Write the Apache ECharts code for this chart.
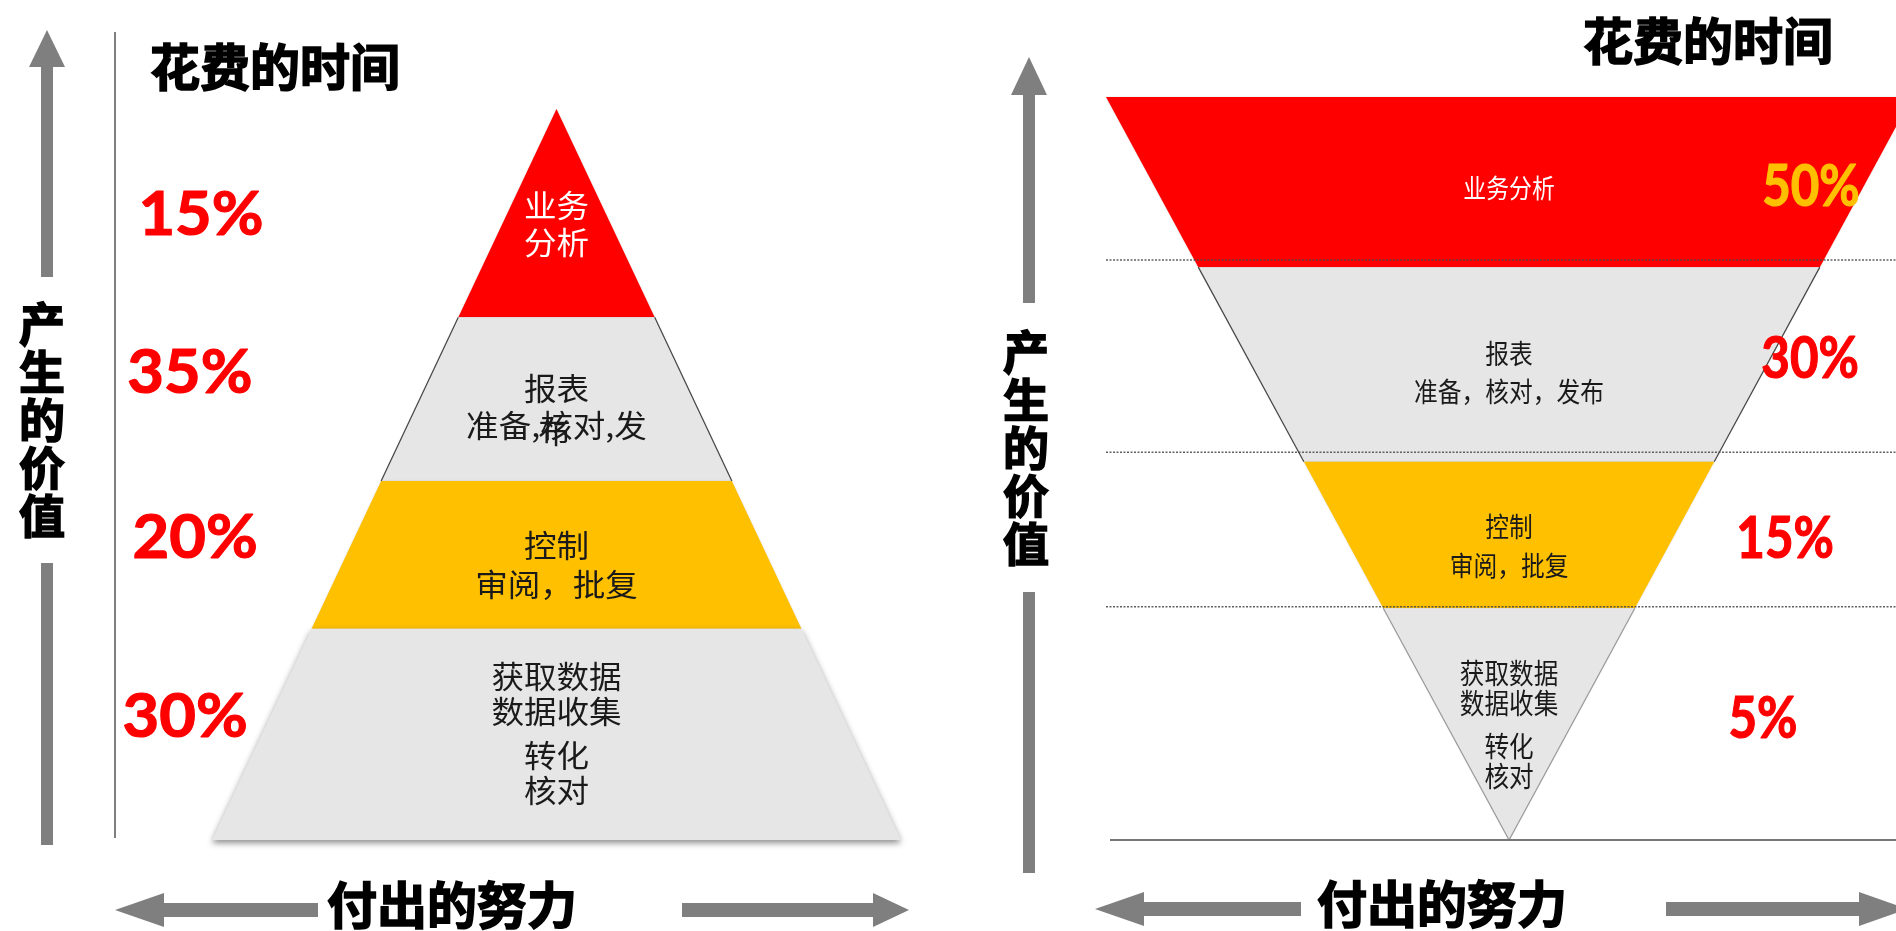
<!DOCTYPE html>
<html>
<head>
<meta charset="utf-8">
<script src="https://cdn.jsdelivr.net/npm/echarts@6/dist/echarts.min.js"></script>
<style>
html,body{margin:0;padding:0;background:#fff;}
#c{width:1896px;height:931px;}
</style>
</head>
<body>
<div id="c"></div>
<script>
// ---------- DATA ----------
const leftCategories = ['业务\n分析', '报表\n准备,核对,发', '控制\n审阅，批复', '获取数据\n数据收集\n转化\n核对'];
const leftPercents = [15, 35, 20, 30];
const leftLayerBottom = [71.5, 49.1, 28.9, 0];
const leftLayerTop = [100, 71.5, 49.1, 28.9];
const leftLabelLevel = [84.3, 59.3, 37.7, 14.6];
const leftPctLevel = [85.5, 63.9, 41.3, 16.8];

const rightCategories = ['业务分析', '报表\n准备，核对，发布', '控制\n审阅，批复', '获取数据\n数据收集\n转化\n核对'];
const rightPercents = [50, 30, 15, 5];
const rightLayerBottom = [77.1, 50.9, 31.2, 0];
const rightLayerTop = [100, 77.1, 50.9, 31.2];
const rightLabelLevel = [87.8, 62.9, 39.5, 15.5];
const rightPctLevel = [87.8, 64.7, 40.5, 16.3];
const rightGuideLevels = [78.06, 52.2, 31.4, 0];

const titleTime = '花费的时间';
const titleValue = '产生的价值';
const titleEffort = '付出的努力';

// ---------- LAYOUT / STYLE ----------
const RED = '#FF0000', GOLD = '#FFC000', GRAY = '#E7E6E6', ARROW = '#7F7F7F';
const layerFill = [RED, GRAY, GOLD, GRAY];
const layerText = ['#FFFFFF', '#1a1a1a', '#1a1a1a', '#1a1a1a'];
const leftPctX = [-1.032, -1.064, -1.049, -1.078];
const rightPctX = [0.749, 0.747, 0.685, 0.63];
const rightPctColor = [GOLD, RED, RED, RED];
const CJK = '"Noto Sans CJK SC","Microsoft YaHei",sans-serif';

function layerRenderer(isPyramid, labels, fontSize, lineHeight, pairGap, sideStroke, scaleX) {
  return function (params, api) {
    const i = params.dataIndex;
    const lo = api.value(0), hi = api.value(1), ly = api.value(2);
    const hw = y => isPyramid ? 1 - y / 100 : y / 100;
    const p1 = api.coord([-hw(lo), lo]), p2 = api.coord([hw(lo), lo]);
    const p3 = api.coord([hw(hi), hi]), p4 = api.coord([-hw(hi), hi]);
    const children = [];
    const isBottom = isPyramid ? lo === 0 : false;
    children.push({
      type: 'polygon', shape: { points: [p1, p2, p3, p4] },
      style: {
        fill: layerFill[i],
        shadowBlur: isBottom ? 6 : 2,
        shadowOffsetY: isBottom ? 3 : 0,
        shadowColor: isBottom ? 'rgba(0,0,0,0.45)' : 'rgba(0,0,0,0.15)'
      }
    });
    if (sideStroke[i]) {
      children.push({ type: 'line', shape: { x1: p1[0], y1: p1[1], x2: p4[0], y2: p4[1] }, style: { stroke: sideStroke[i], lineWidth: 1.2 } });
      children.push({ type: 'line', shape: { x1: p2[0], y1: p2[1], x2: p3[0], y2: p3[1] }, style: { stroke: sideStroke[i], lineWidth: 1.2 } });
    }
    const c = api.coord([0, ly]);
    const lines = labels[i].split('\n');
    const L = lineHeight[i];
    // vertical offsets: 4-line labels are two pairs separated by an extra gap
    let offs;
    if (lines.length === 4) {
      const g = pairGap;
      offs = [-1.5 * L - g / 2, -0.5 * L - g / 2, 0.5 * L + g / 2, 1.5 * L + g / 2];
    } else {
      offs = lines.map((_, k) => (k - (lines.length - 1) / 2) * L);
    }
    lines.forEach((ln, k) => {
      children.push({
        type: 'text', x: c[0], y: c[1] + offs[k], scaleX: scaleX,
        style: {
          text: ln, fill: layerText[i], fontSize: fontSize[i], fontFamily: CJK,
          align: 'center', verticalAlign: 'middle', textAlign: 'center', textVerticalAlign: 'middle'
        }
      });
    });
    // the original slide shows the wrapped character "布" overprinted on "核"
    if (isPyramid && i === 1) {
      children.push({
        type: 'text', x: c[0] - 2, y: c[1] + offs[1] + 6, scaleX: scaleX,
        style: { text: '布', fill: '#1a1a1a', fontSize: fontSize[i], fontFamily: CJK, align: 'center', verticalAlign: 'middle', textAlign: 'center', textVerticalAlign: 'middle' }
      });
    }
    return { type: 'group', children };
  };
}

function pctRenderer(xs, colors, fontSize, scaleX) {
  return function (params, api) {
    const i = params.dataIndex;
    const c = api.coord([xs[i], api.value(1)]);
    return {
      type: 'text', x: c[0], y: c[1], scaleX: scaleX,
      style: {
        text: api.value(0) + '%', fill: colors[i], stroke: colors[i], lineWidth: 1.2,
        fontSize: fontSize, fontWeight: 'bold',
        fontFamily: 'Lato, "Open Sans", sans-serif', align: 'center', verticalAlign: 'middle',
        textAlign: 'center', textVerticalAlign: 'middle'
      }
    };
  };
}

function guideRenderer(params, api) {
  const lv = api.value(0);
  const a = api.coord([-1, lv]), b = api.coord([1.1, lv]);
  const solid = lv === 0;
  return {
    type: 'line', shape: { x1: a[0] + (solid ? 4 : 0), y1: a[1], x2: b[0], y2: b[1] },
    style: { stroke: solid ? '#777' : 'rgba(70,70,70,0.85)', lineWidth: solid ? 2 : 1.5, lineDash: solid ? null : [2, 1.5] }
  };
}

const leftData = leftPercents.map((_, i) => [leftLayerBottom[i], leftLayerTop[i], leftLabelLevel[i]]);
const rightData = rightPercents.map((_, i) => [rightLayerBottom[i], rightLayerTop[i], rightLabelLevel[i]]);
const leftPctData = leftPercents.map((v, i) => [v, leftPctLevel[i]]);
const rightPctData = rightPercents.map((v, i) => [v, rightPctLevel[i]]);

function arrowH(tipX, baseX, endX, cy) {
  const dir = Math.sign(baseX - tipX);
  return [
    { type: 'polygon', shape: { points: [[tipX, cy], [baseX, cy - 17], [baseX, cy + 17]] }, style: { fill: ARROW } },
    { type: 'rect', shape: { x: Math.min(baseX - dir, endX), y: cy - 7, width: Math.abs(endX - baseX) + 1, height: 14 }, style: { fill: ARROW } }
  ];
}
function arrowV(cx, tipY, baseY, endY, barTop, barBottom) {
  return [
    { type: 'polygon', shape: { points: [[cx, tipY], [cx - 18, baseY], [cx + 18, baseY]] }, style: { fill: ARROW } },
    { type: 'rect', shape: { x: cx - 6, y: baseY - 1, width: 12, height: endY - baseY + 1 }, style: { fill: ARROW } },
    { type: 'rect', shape: { x: cx - 6, y: barTop, width: 12, height: barBottom - barTop }, style: { fill: ARROW } }
  ];
}
function txt(text, x, y, size, extra) {
  return {
    type: 'text', x: x, y: y,
    style: Object.assign({ text: text, fill: '#000', stroke: '#000', lineWidth: 1.6, fontSize: size, fontWeight: 'bold', fontFamily: CJK,
      align: 'center', verticalAlign: 'middle', textAlign: 'center', textVerticalAlign: 'middle' }, extra || {})
  };
}

const chart = echarts.init(document.getElementById('c'), null, { renderer: 'canvas' });
chart.setOption({
  backgroundColor: '#ffffff',
  animation: false,
  grid: [
    { left: 212, top: 109, width: 689, height: 731 },
    { left: 1106, top: 97, width: 790, height: 743 }
  ],
  xAxis: [
    { type: 'value', gridIndex: 0, min: -1, max: 1, show: false },
    { type: 'value', gridIndex: 1, min: -1, max: 0.96, show: false }
  ],
  yAxis: [
    { type: 'value', gridIndex: 0, min: 0, max: 100, show: false },
    { type: 'value', gridIndex: 1, min: 0, max: 100, show: false }
  ],
  graphic: [
    { type: 'line', shape: { x1: 115, y1: 32, x2: 115, y2: 838 }, style: { stroke: '#555', lineWidth: 1.5 } },
    ...arrowV(47, 30, 67, 277, 563, 845),
    ...arrowV(1029, 57, 95, 303, 592, 873),
    ...arrowH(115, 164, 318, 910),
    ...arrowH(909, 873, 682, 910),
    ...arrowH(1095, 1144, 1301, 909),
    ...arrowH(1907, 1859, 1666, 909),
    txt(titleTime, 275, 67, 50),
    txt(titleTime, 1708, 41, 50),
    txt(titleValue.split('').join('\n'), 42, 420, 46, { lineHeight: 48 }),
    txt(titleValue.split('').join('\n'), 1026, 448, 46, { lineHeight: 48 }),
    txt(titleEffort, 452, 905, 50),
    txt(titleEffort, 1442, 904, 50)
  ],
  series: [
    {
      type: 'custom', xAxisIndex: 0, yAxisIndex: 0, clip: false, z: 2,
      data: leftData,
      renderItem: layerRenderer(true, leftCategories, [31, 31, 31, 31], [37, 37, 39, 35], 9, [null, '#444', null, null], 1.05)
    },
    {
      type: 'custom', xAxisIndex: 0, yAxisIndex: 0, clip: false, z: 3,
      data: leftPctData,
      renderItem: pctRenderer(leftPctX, [RED, RED, RED, RED], 62, 1.02)
    },
    {
      type: 'custom', xAxisIndex: 1, yAxisIndex: 1, clip: false, z: 2,
      data: rightData,
      renderItem: layerRenderer(false, rightCategories, [26, 27, 27, 28], [30, 38, 39, 29.5], 14, [null, '#444', null, '#999'], 0.88)
    },
    {
      type: 'custom', xAxisIndex: 1, yAxisIndex: 1, clip: false, z: 4,
      data: rightGuideLevels.map(v => [v]),
      renderItem: guideRenderer
    },
    {
      type: 'custom', xAxisIndex: 1, yAxisIndex: 1, clip: false, z: 5,
      data: rightPctData,
      renderItem: pctRenderer(rightPctX, rightPctColor, 58, 0.85)
    }
  ]
});
</script>
</body>
</html>
